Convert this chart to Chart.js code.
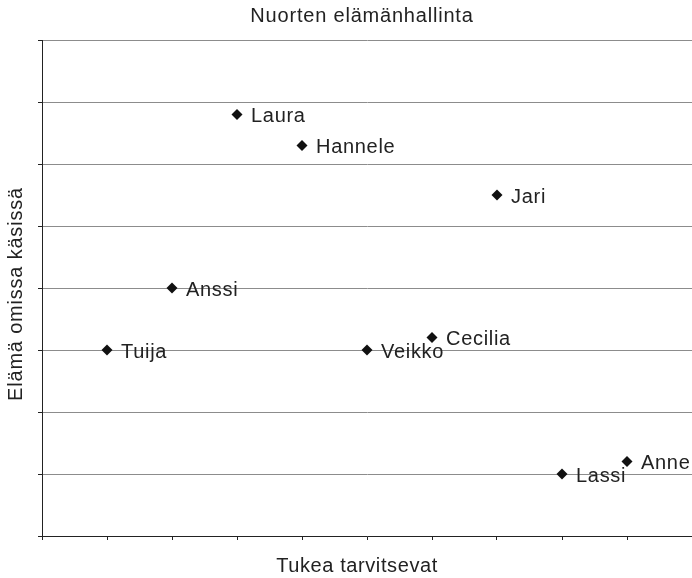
<!DOCTYPE html>
<html>
<head>
<meta charset="utf-8">
<script src="https://cdn.jsdelivr.net/npm/chart.js@4"></script>
<style>
  html,body{margin:0;padding:0;background:#fff}
  #wrap{width:692px;height:578px}
</style>
</head>
<body>
<div id="wrap"><canvas id="ch"></canvas></div>
<script>
/* Nuorten elämänhallinta — hajontakuvio nimilapuin */
const names=['Tuija','Anssi','Laura','Hannele','Veikko','Cecilia','Jari','Lassi','Anne'];
const xVals=[1,2,3,4,5,6,7,8,9];
const yVals=[3,4,6.8,6.3,3,3.2,5.5,1,1.2];
const xTicks=[0,1,2,3,4,5,6,7,8,9,10];
const yTicks=[0,1,2,3,4,5,6,7,8];
const chartTitle='Nuorten elämänhallinta';
const xTitle='Tukea tarvitsevat';
const yTitle='Elämä omissa käsissä';

const FONT='"Liberation Sans", Arial, sans-serif';

function txt(ctx,s,x,y,spacing){
  ctx.letterSpacing=spacing+'px';
  ctx.fillText(s,x,y);
}

// otsikot ja nimet pisteiden oikealle puolelle
const texts={
  id:'texts',
  afterDatasetsDraw(chart){
    const ctx=chart.ctx;
    const a=chart.chartArea;
    const meta=chart.getDatasetMeta(0);
    ctx.save();
    ctx.fillStyle='#222';
    ctx.textBaseline='middle';
    ctx.font='20px '+FONT;
    ctx.textAlign='left';
    meta.data.forEach((p,i)=>txt(ctx,names[i],p.x+14,p.y+2,0.7));
    ctx.textAlign='center';
    txt(ctx,chartTitle,(a.left+a.right)/2-5,16,0.8);
    txt(ctx,xTitle,(a.left+a.right)/2-10,566,0.6);
    ctx.translate(16,(a.top+a.bottom)/2+6);
    ctx.rotate(-Math.PI/2);
    txt(ctx,yTitle,0,0,0.8);
    ctx.restore();
  }
};

new Chart(document.getElementById('ch'),{
  type:'scatter',
  data:{datasets:[{
    data:xVals.map((x,i)=>({x:x,y:yVals[i]})),
    pointStyle:'rectRot',pointRadius:5.5,pointHoverRadius:5.5,
    backgroundColor:'#111',borderColor:'#111',borderWidth:0
  }]},
  options:{
    responsive:true,maintainAspectRatio:false,animation:false,
    layout:{padding:{top:40,left:0,right:0,bottom:0},autoPadding:false},
    plugins:{legend:{display:false},tooltip:{enabled:false},title:{display:false}},
    scales:{
      x:{type:'linear',min:0,max:10,
        afterBuildTicks:s=>{s.ticks=xTicks.map(v=>({value:v}));},
        afterFit:s=>{s.height=42;},
        ticks:{display:false},
        grid:{color:'rgba(0,0,0,0)',tickColor:'#222',tickLength:4,drawTicks:true},
        border:{display:true,color:'#222',width:1}
      },
      y:{type:'linear',min:0,max:8,
        afterBuildTicks:s=>{s.ticks=yTicks.map(v=>({value:v}));},
        afterFit:s=>{s.width=42;},
        ticks:{display:false},
        grid:{color:'#8c8c8c',tickColor:'#222',tickLength:4,drawTicks:true},
        border:{display:true,color:'#222',width:1}
      }
    }
  },
  plugins:[texts]
});
</script>
</body>
</html>
